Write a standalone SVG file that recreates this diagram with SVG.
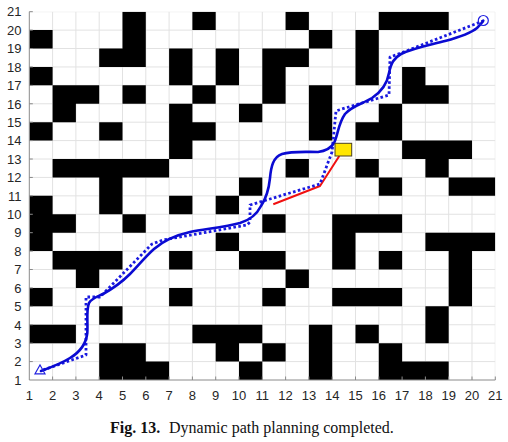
<svg xmlns="http://www.w3.org/2000/svg" width="508" height="442" viewBox="0 0 508 442">
<style>
.tl{font-family:"Liberation Sans",Arial,sans-serif;font-size:13px;fill:#262626}
.yl{text-anchor:end}
.xl{text-anchor:middle}
.cap{font-family:"Liberation Serif","Times New Roman",serif;font-size:16px;fill:#111}
.ax{stroke:#8a8a8a;stroke-width:1;fill:none}
</style>
<rect width="508" height="442" fill="#fff"/>
<g id="plot-area">
<svg x="29.3" y="11.7" width="466" height="368.3" viewBox="0 0 20 20" preserveAspectRatio="none">
<path id="grid" vector-effect="non-scaling-stroke" stroke="#e2e2e2" stroke-width="1" fill="none" d="M1 0V20M2 0V20M3 0V20M4 0V20M5 0V20M6 0V20M7 0V20M8 0V20M9 0V20M10 0V20M11 0V20M12 0V20M13 0V20M14 0V20M15 0V20M16 0V20M17 0V20M18 0V20M19 0V20M20 0V20M0 0H20M0 1H20M0 2H20M0 3H20M0 4H20M0 5H20M0 6H20M0 7H20M0 8H20M0 9H20M0 10H20M0 11H20M0 12H20M0 13H20M0 14H20M0 15H20M0 16H20M0 17H20M0 18H20M0 19H20"/>
<path id="obstacles" fill="#000" d="
M4 0h1v1h-1zM7 0h1v1h-1zM11 0h1v1h-1zM15 0h3v1h-3z
M0 1h1v1h-1zM4 1h1v1h-1zM12 1h1v1h-1zM14 1h1v1h-1z
M3 2h2v1h-2zM6 2h1v1h-1zM8 2h1v1h-1zM10 2h2v1h-2zM14 2h1v1h-1z
M0 3h1v1h-1zM6 3h1v1h-1zM8 3h1v1h-1zM10 3h1v1h-1zM14 3h1v1h-1zM16 3h1v1h-1z
M1 4h2v1h-2zM4 4h1v1h-1zM7 4h1v1h-1zM10 4h1v1h-1zM12 4h1v1h-1zM16 4h2v1h-2z
M1 5h1v1h-1zM6 5h1v1h-1zM9 5h1v1h-1zM12 5h1v1h-1zM15 5h1v1h-1z
M0 6h1v1h-1zM3 6h1v1h-1zM6 6h2v1h-2zM12 6h1v1h-1zM14 6h2v1h-2z
M6 7h1v1h-1zM16 7h3v1h-3z
M1 8h5v1h-5zM11 8h1v1h-1zM14 8h1v1h-1zM17 8h1v1h-1z
M3 9h1v1h-1zM9 9h1v1h-1zM15 9h1v1h-1zM18 9h2v1h-2z
M0 10h1v1h-1zM3 10h1v1h-1zM6 10h1v1h-1zM8 10h1v1h-1z
M0 11h2v1h-2zM4 11h1v1h-1zM10 11h1v1h-1zM13 11h3v1h-3z
M0 12h1v1h-1zM8 12h1v1h-1zM13 12h1v1h-1zM17 12h3v1h-3z
M1 13h3v1h-3zM6 13h1v1h-1zM9 13h2v1h-2zM13 13h1v1h-1zM15 13h1v1h-1zM18 13h1v1h-1z
M2 14h1v1h-1zM11 14h1v1h-1zM18 14h1v1h-1z
M0 15h1v1h-1zM6 15h1v1h-1zM10 15h1v1h-1zM13 15h3v1h-3zM18 15h1v1h-1z
M3 16h1v1h-1zM17 16h1v1h-1z
M0 17h2v1h-2zM7 17h3v1h-3zM12 17h1v1h-1zM14 17h1v1h-1zM17 17h1v1h-1z
M3 18h2v1h-2zM8 18h1v1h-1zM10 18h1v1h-1zM12 18h1v1h-1zM15 18h1v1h-1z
M3 19h3v1h-3zM9 19h1v1h-1zM12 19h1v1h-1zM15 19h3v1h-3z"/>
</svg>
</g>
<g id="axes">
<path class="ax" d="M29.3 11.7V380H495.3"/>
<path class="ax" d="M52.6 380v-3.5M75.9 380v-3.5M99.2 380v-3.5M122.5 380v-3.5M145.8 380v-3.5M169.1 380v-3.5M192.4 380v-3.5M215.7 380v-3.5M239 380v-3.5M262.3 380v-3.5M285.6 380v-3.5M308.9 380v-3.5M332.2 380v-3.5M355.5 380v-3.5M378.8 380v-3.5M402.1 380v-3.5M425.4 380v-3.5M448.7 380v-3.5M472 380v-3.5M495.3 380v-3.5M29.3 361.59h3.5M29.3 343.17h3.5M29.3 324.76h3.5M29.3 306.34h3.5M29.3 287.93h3.5M29.3 269.51h3.5M29.3 251.1h3.5M29.3 232.68h3.5M29.3 214.27h3.5M29.3 195.85h3.5M29.3 177.44h3.5M29.3 159.02h3.5M29.3 140.61h3.5M29.3 122.19h3.5M29.3 103.78h3.5M29.3 85.36h3.5M29.3 66.95h3.5M29.3 48.53h3.5M29.3 30.12h3.5M29.3 11.7h3.5"/>
<g class="tl yl">
<text x="21.5" y="384.7">1</text><text x="21.5" y="366.3">2</text><text x="21.5" y="347.9">3</text><text x="21.5" y="329.5">4</text><text x="21.5" y="311">5</text><text x="21.5" y="292.6">6</text><text x="21.5" y="274.2">7</text><text x="21.5" y="255.8">8</text><text x="21.5" y="237.4">9</text><text x="21.5" y="219">10</text><text x="21.5" y="200.6">11</text><text x="21.5" y="182.1">12</text><text x="21.5" y="163.7">13</text><text x="21.5" y="145.3">14</text><text x="21.5" y="126.9">15</text><text x="21.5" y="108.5">16</text><text x="21.5" y="90.1">17</text><text x="21.5" y="71.6">18</text><text x="21.5" y="53.2">19</text><text x="21.5" y="34.8">20</text><text x="21.5" y="16.4">21</text>
</g>
<g class="tl xl">
<text x="29.3" y="400">1</text><text x="52.6" y="400">2</text><text x="75.9" y="400">3</text><text x="99.2" y="400">4</text><text x="122.5" y="400">5</text><text x="145.8" y="400">6</text><text x="169.1" y="400">7</text><text x="192.4" y="400">8</text><text x="215.7" y="400">9</text><text x="239" y="400">10</text><text x="262.3" y="400">11</text><text x="285.6" y="400">12</text><text x="308.9" y="400">13</text><text x="332.2" y="400">14</text><text x="355.5" y="400">15</text><text x="378.8" y="400">16</text><text x="402.1" y="400">17</text><text x="425.4" y="400">18</text><text x="448.7" y="400">19</text><text x="472" y="400">20</text><text x="495.3" y="400">21</text>
</g>
</g>
<g id="connectors" fill="none" stroke-linejoin="round">
<path id="replanned-segment" stroke="#f01010" stroke-width="2" d="M339.3 156L320 186L273.3 204.3"/>
<path id="planned-path" stroke="#1a1ae0" stroke-width="2.8" stroke-dasharray="2.6 2.4" d="M43 370L86 355L86 297L100 297L152 244L163 240L247 225L250 222L250 205L320 184L332 152L336 111L342 109L389 95L390 57L396 55L483 21"/>
<path id="smooth-path" stroke="#0a0ad2" stroke-width="2.6" stroke-linecap="round" d="M41 371C52 367 62 363 70 358C80 352 86 345 87.3 333C88 322 86 310 89 303C92 298 97 297 103 294C112 289 121 283 130 274C138 266 145 257 154 249C162 242 172 236 190 232C205 229 225 227 240 223C250 220 257 214 261 206C267 197 269 188 270 178C271 167 273 157 282 154C292 151 305 152 318 152C326 151 331 148 334 143C338 135 338 124 345 114C352 106 362 104 372 98C381 92 387 85 389 73C391 63 394 58 401 54C413 48 430 45 445 41C460 37 471 33 477 28C480 25 482 23 483.3 20.7"/>
</g>
<g id="start-marker"><path d="M35 373.8H45L40 365Z" fill="none" stroke="#2020e0" stroke-width="1.2"/></g>
<g id="goal-marker"><circle cx="483.3" cy="20.5" r="5" fill="none" stroke="#2020e0" stroke-width="1.2"/></g>
<g id="dynamic-obstacle"><rect x="335" y="143.3" width="16.7" height="12.7" fill="#ffe600" stroke="#4a4020" stroke-width="1"/></g>
<g id="caption">
<text class="cap" x="110" y="433.3" font-weight="bold">Fig. 13.</text>
<text class="cap" x="169" y="433.3">Dynamic path planning completed.</text>
</g>
</svg>
